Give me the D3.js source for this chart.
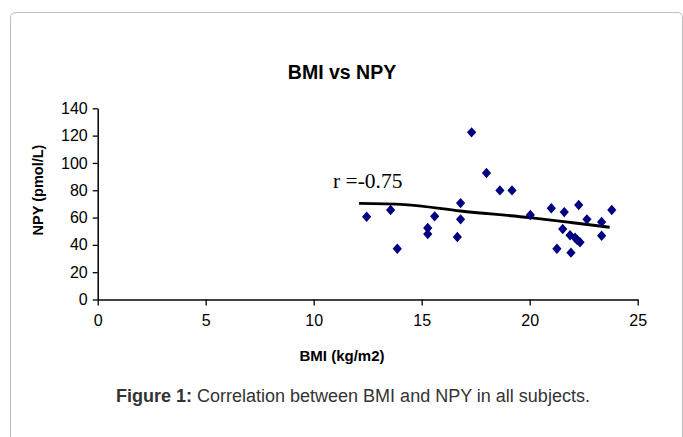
<!DOCTYPE html>
<html>
<head>
<meta charset="utf-8">
<script src="https://cdn.jsdelivr.net/npm/d3@7"></script>
<style>
  body { margin: 0; background: #fff; }
  #art { width: 683px; height: 437px; }
</style>
</head>
<body>
<div id="art"></div>
<script>
// BMI (kg/m2) and NPY (pmol/L)
const bmi = [12.45, 13.56, 13.87, 15.28, 15.28, 15.6, 16.65, 16.8, 16.8, 17.31,
  18.0, 18.62, 19.18, 20.03, 21.0, 21.26, 21.6, 21.53, 21.87, 21.91,
  22.1, 22.27, 22.2, 22.33, 22.65, 23.33, 23.33, 23.8];
const npy = [60.6, 65.5, 37.2, 52.3, 47.9, 60.9, 45.8, 70.6, 58.7, 122.4,
  92.6, 79.9, 79.9, 61.9, 66.8, 37.2, 64.0, 51.6, 47.0, 34.3,
  45.2, 69.2, 43.6, 41.9, 58.7, 56.7, 46.7, 65.5];

// fitted line as drawn
const trendX = [12.1, 14.2, 16.8, 20.0, 22.0, 23.7];
const trendY = [70.4, 69.5, 64.8, 59.9, 56.2, 52.9];

const xTicks = [0, 5, 10, 15, 20, 25];
const yTicks = [0, 20, 40, 60, 80, 100, 120, 140];

function art() {
  const svg = d3.select("#art").append("svg")
    .attr("width", 683).attr("height", 437);

  // card frame
  svg.append("path")
    .attr("d", "M10.5,440 L10.5,18 Q10.5,12.5 16,12.5 L677,12.5 Q682.5,12.5 682.5,18 L682.5,440")
    .attr("fill", "none").attr("stroke", "#bdbdbd").attr("stroke-width", 1);

  const x = d3.scaleLinear().domain([0, 25]).range([97.7, 637.7]);
  const y = d3.scaleLinear().domain([0, 140]).range([299.5, 108.3]);

  svg.append("text")
    .attr("x", 342).attr("y", 79)
    .attr("text-anchor", "middle")
    .style("font", "bold 19.5px 'Liberation Sans', Arial, sans-serif")
    .text("BMI vs NPY");

  const xAxis = svg.append("g")
    .attr("transform", `translate(0,${y(0)})`)
    .call(d3.axisBottom(x).tickValues(xTicks).tickSizeInner(6).tickSizeOuter(0).tickPadding(9));
  const yAxis = svg.append("g")
    .attr("transform", `translate(${x(0)},0)`)
    .call(d3.axisLeft(y).tickValues(yTicks).tickSizeInner(5).tickSizeOuter(0).tickPadding(5));

  [xAxis, yAxis].forEach(g => {
    g.select(".domain").attr("stroke", "#000").attr("stroke-width", 1.5);
    g.selectAll(".tick line").attr("stroke", "#000").attr("stroke-width", 1.3);
    g.selectAll("text")
      .style("font", "16px 'Liberation Sans', Arial, sans-serif")
      .attr("fill", "#000");
  });

  // trend line
  const line = d3.line().x(d => x(d[0])).y(d => y(d[1])).curve(d3.curveMonotoneX);
  svg.append("path")
    .datum(trendX.map((v, i) => [v, trendY[i]]))
    .attr("d", line)
    .attr("fill", "none").attr("stroke", "#000").attr("stroke-width", 2.8);

  // points
  svg.selectAll("path.pt")
    .data(bmi.map((v, i) => [v, npy[i]]))
    .enter().append("path")
    .attr("class", "pt")
    .attr("d", "M0,-5.2 L4.6,0 L0,5.2 L-4.6,0 Z")
    .attr("transform", d => `translate(${x(d[0])},${y(d[1])})`)
    .attr("fill", "#000080");

  svg.append("text")
    .attr("x", 333).attr("y", 188)
    .style("font", "21.5px 'Liberation Serif', 'Times New Roman', serif")
    .text("r =-0.75");

  svg.append("text")
    .attr("transform", "translate(43,190) rotate(-90)")
    .attr("text-anchor", "middle")
    .style("font", "bold 14.5px 'Liberation Sans', Arial, sans-serif")
    .text("NPY (pmol/L)");

  svg.append("text")
    .attr("x", 342).attr("y", 361)
    .attr("text-anchor", "middle")
    .style("font", "bold 15px 'Liberation Sans', Arial, sans-serif")
    .text("BMI (kg/m2)");

  const cap = svg.append("text")
    .attr("x", 116).attr("y", 402)
    .style("font", "18px 'Liberation Sans', Arial, sans-serif")
    .attr("fill", "#333");
  cap.append("tspan").style("font-weight", "bold").text("Figure 1:");
  cap.append("tspan").text(" Correlation between BMI and NPY in all subjects.");
}

window.onload = function () {
  art();
};
</script>
</body>
</html>
